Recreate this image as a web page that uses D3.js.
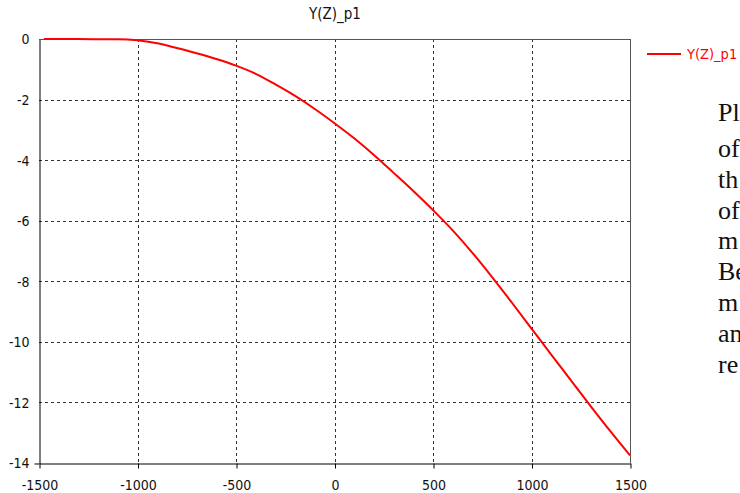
<!DOCTYPE html>
<html><head><meta charset="utf-8">
<script src="https://cdn.jsdelivr.net/npm/d3@7"></script>
<style>body{margin:0;background:#fff;overflow:hidden}svg{display:block}</style>
</head><body>
<script>
const title = "Y(Z)_p1";
const seriesName = "Y(Z)_p1";
const zValues = [-1475,-1300,-1150,-1100,-1000,-900,-800,-700,-600,-500,-400,-300,-200,-100,0,100,200,300,400,500,600,700,800,900,1000,1100,1200,1300,1400,1500];
const yValues = [0,0,-0.01,-0.01,-0.04,-0.14,-0.3,-0.47,-0.66,-0.88,-1.15,-1.5,-1.88,-2.31,-2.78,-3.28,-3.83,-4.42,-5.02,-5.65,-6.32,-7.06,-7.86,-8.7,-9.56,-10.42,-11.27,-12.12,-12.95,-13.75];
const xTicks = [-1500,-1000,-500,0,500,1000,1500];
const yTicks = [0,-2,-4,-6,-8,-10,-12,-14];
const sideWords = ["Pl","of","th","of","m","Be","m","an","re"];

const W = 740, H = 493;
const svg = d3.select("body").append("svg").attr("width", W).attr("height", H);
const x = d3.scaleLinear().domain([-1500,1500]).range([39,630]);
const y = d3.scaleLinear().domain([-14,0]).range([463,39]);
const font = "'DejaVu Sans Condensed', 'DejaVu Sans', sans-serif";

// grid
svg.append("g").selectAll("line").data(yTicks.filter(d=>d!==0&&d!==-14)).join("line")
  .attr("x1", x(-1500)).attr("x2", x(1500)).attr("y1", d=>Math.round(y(d))+0.5).attr("y2", d=>Math.round(y(d))+0.5)
  .attr("stroke","#333").attr("stroke-dasharray","3,3").attr("stroke-width",1);
svg.append("g").selectAll("line").data(xTicks.filter(d=>d!==-1500&&d!==1500)).join("line")
  .attr("y1", y(0)).attr("y2", y(-14)).attr("x1", d=>Math.round(x(d))+0.5).attr("x2", d=>Math.round(x(d))+0.5)
  .attr("stroke","#333").attr("stroke-dasharray","3,3").attr("stroke-width",1);

// frame top/right
svg.append("line").attr("x1",x(-1500)).attr("x2",x(1500)+0.5).attr("y1",y(0)+0.5).attr("y2",y(0)+0.5).attr("stroke","#555");
svg.append("line").attr("x1",x(1500)+0.5).attr("x2",x(1500)+0.5).attr("y1",y(0)).attr("y2",y(-14)).attr("stroke","#555");

// axes
const xAxis = d3.axisBottom(x).tickValues(xTicks).tickSize(5).tickSizeOuter(0).tickFormat(d3.format("d"));
const gx = svg.append("g").attr("transform",`translate(0.5,${y(-14)+0.5})`).call(xAxis);
gx.select(".domain").attr("stroke","#000");
gx.selectAll("text").attr("font-family",font).attr("font-size",14).attr("fill","#111").attr("y",0).attr("dy",null).attr("transform","translate(0,26)").text(d=>String(d));
const yAxis = d3.axisLeft(y).tickValues(yTicks).tickSize(5).tickSizeOuter(0).tickFormat(d3.format("d"));
const gy = svg.append("g").attr("transform",`translate(${x(-1500)+0.5},0.5)`).call(yAxis);
gy.select(".domain").attr("stroke","#000");
gy.selectAll("text").attr("font-family",font).attr("font-size",14).attr("fill","#111").attr("x",-10).text(d=>String(d));
gy.selectAll(".tick line").filter(d=>d!==-14).attr("stroke","none");

// line
const line = d3.line().x((d,i)=>x(zValues[i])).y(d=>y(d)).curve(d3.curveMonotoneX);
svg.append("path").datum(yValues).attr("d",line).attr("fill","none").attr("stroke","#ff0000").attr("stroke-width",2);

// title
svg.append("text").attr("x",335).attr("y",19).attr("text-anchor","middle").attr("font-family",font).attr("font-size",15).attr("fill","#111").text(title);

// legend
svg.append("line").attr("x1",647).attr("x2",681).attr("y1",54).attr("y2",54).attr("stroke","#ff0000").attr("stroke-width",2);
svg.append("text").attr("x",687).attr("y",59).attr("font-family",font).attr("font-size",14.5).attr("fill","#ff0000").text(seriesName);

// side paragraph
svg.append("g").selectAll("text").data(sideWords).join("text")
  .attr("x",718).attr("y",(d,i)=> i===0 ? 121 : 157 + (i-1)*30.8).attr("font-family","'Liberation Serif', serif").attr("font-size",26).attr("fill","#111").text(d=>d);
</script>
</body></html>
